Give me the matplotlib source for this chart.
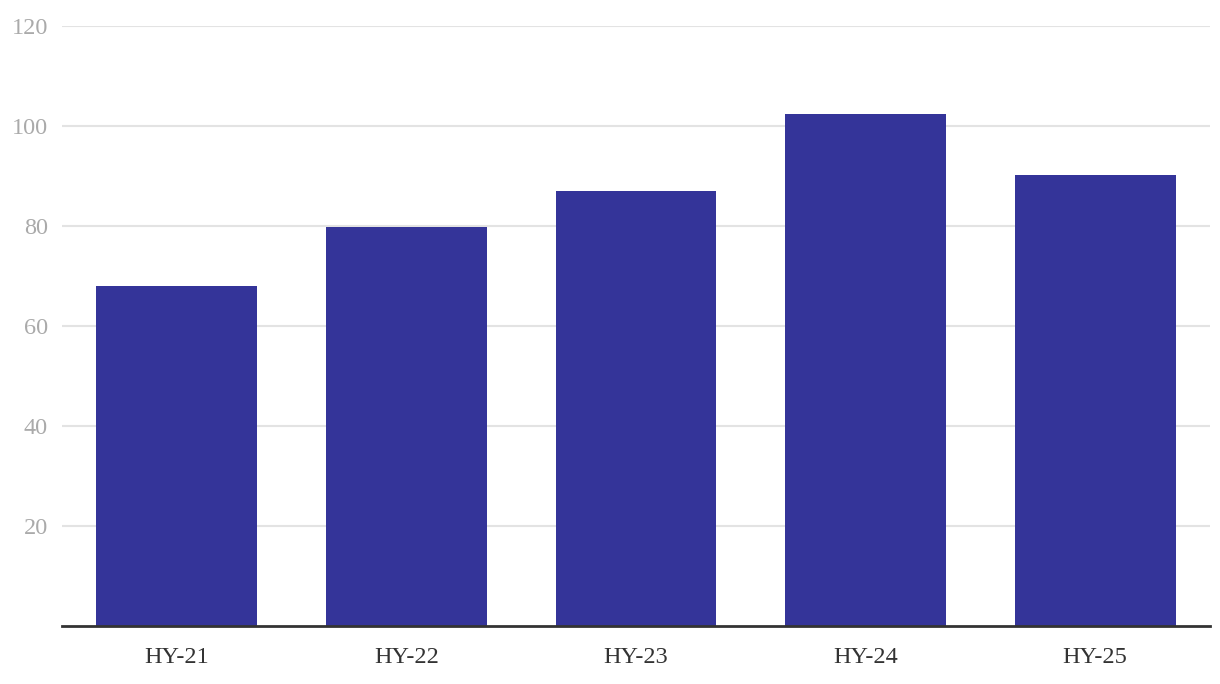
import matplotlib
matplotlib.use("Agg")
import matplotlib.pyplot as plt

categories = ["HY-21", "HY-22", "HY-23", "HY-24", "HY-25"]
values = [68, 79.8, 87, 102.4, 90.2]
yticks = [20, 40, 60, 80, 100, 120]

plt.rcParams['font.family'] = ['Liberation Serif', 'DejaVu Serif']

fig = plt.figure(figsize=(12.2, 6.84), dpi=100)
ax = fig.add_axes([62/1220, 1-626/684, (1210-62)/1220, (626-26)/684])

x = list(range(len(categories)))
ax.bar(x, values, width=0.7, color="#343499", zorder=2)

ax.set_xlim(-0.5, len(categories) - 0.5)
ax.set_ylim(0, 120)
ax.set_yticks(yticks)
ax.set_yticklabels([str(v) for v in yticks])
ax.set_xticks(x)
ax.set_xticklabels(categories)

ax.grid(axis='y', color="#e3e3e3", linewidth=1.5, zorder=0)
for s in ['top', 'right', 'left']:
    ax.spines[s].set_visible(False)
ax.spines['bottom'].set_color("#333333")
ax.spines['bottom'].set_linewidth(2)
ax.spines['bottom'].set_zorder(3)

ax.tick_params(axis='y', length=0, pad=10, labelsize=17.5, labelcolor="#aaaaaa")
ax.tick_params(axis='x', length=0, pad=15, labelsize=17.5, labelcolor="#333333")

fig.savefig("out.png", dpi=100)
